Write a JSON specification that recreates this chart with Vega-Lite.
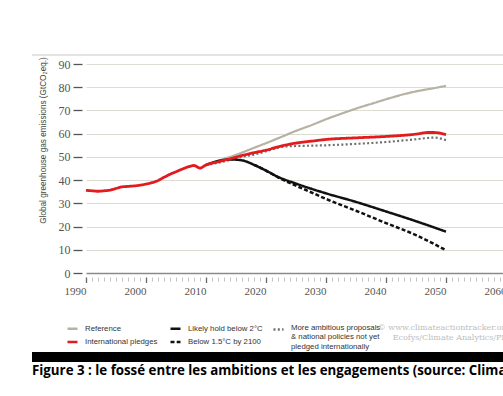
{
  "$schema": "https://vega.github.io/schema/vega-lite/v6.json",
  "width": 420,
  "height": 209,
  "autosize": "none",
  "padding": {"left": 86, "top": 64, "right": 0, "bottom": 123},
  "background": "#ffffff",
  "config": {"view": {"stroke": null}},
  "title": {
    "text": "Figure 3 : le fossé entre les ambitions et les engagements (source: Climate Action Tracker)",
    "orient": "bottom",
    "anchor": "start",
    "frame": "group",
    "dx": -54,
    "offset": 3,
    "font": "Open Sans",
    "fontWeight": "bold",
    "fontSize": 13.3,
    "color": "#000000"
  },
  "data": {
    "values": [
      {"year": 1990, "value": 35.6, "series": "International pledges"},
      {"year": 1991, "value": 35.4, "series": "International pledges"},
      {"year": 1992, "value": 35.2, "series": "International pledges"},
      {"year": 1993, "value": 35.4, "series": "International pledges"},
      {"year": 1994, "value": 35.7, "series": "International pledges"},
      {"year": 1995, "value": 36.4, "series": "International pledges"},
      {"year": 1996, "value": 37.1, "series": "International pledges"},
      {"year": 1997, "value": 37.3, "series": "International pledges"},
      {"year": 1998, "value": 37.5, "series": "International pledges"},
      {"year": 1999, "value": 37.8, "series": "International pledges"},
      {"year": 2000, "value": 38.3, "series": "International pledges"},
      {"year": 2001, "value": 38.9, "series": "International pledges"},
      {"year": 2002, "value": 39.8, "series": "International pledges"},
      {"year": 2003, "value": 41.2, "series": "International pledges"},
      {"year": 2004, "value": 42.5, "series": "International pledges"},
      {"year": 2005, "value": 43.6, "series": "International pledges"},
      {"year": 2006, "value": 44.7, "series": "International pledges"},
      {"year": 2007, "value": 45.7, "series": "International pledges"},
      {"year": 2008, "value": 46.3, "series": "International pledges"},
      {"year": 2009, "value": 45.2, "series": "International pledges"},
      {"year": 2010, "value": 46.5, "series": "International pledges"},
      {"year": 2012, "value": 47.9, "series": "International pledges"},
      {"year": 2014, "value": 49.2, "series": "International pledges"},
      {"year": 2016, "value": 50.6, "series": "International pledges"},
      {"year": 2018, "value": 51.8, "series": "International pledges"},
      {"year": 2020, "value": 52.9, "series": "International pledges"},
      {"year": 2022, "value": 54.3, "series": "International pledges"},
      {"year": 2024, "value": 55.5, "series": "International pledges"},
      {"year": 2026, "value": 56.3, "series": "International pledges"},
      {"year": 2028, "value": 56.9, "series": "International pledges"},
      {"year": 2030, "value": 57.5, "series": "International pledges"},
      {"year": 2035, "value": 58.2, "series": "International pledges"},
      {"year": 2040, "value": 58.8, "series": "International pledges"},
      {"year": 2045, "value": 59.8, "series": "International pledges"},
      {"year": 2047, "value": 60.5, "series": "International pledges"},
      {"year": 2048, "value": 60.5, "series": "International pledges"},
      {"year": 2050, "value": 59.6, "series": "International pledges"},
      {"year": 2010, "value": 46.5, "series": "Reference"},
      {"year": 2012, "value": 48.3, "series": "Reference"},
      {"year": 2015, "value": 50.9, "series": "Reference"},
      {"year": 2018, "value": 53.9, "series": "Reference"},
      {"year": 2020, "value": 55.9, "series": "Reference"},
      {"year": 2022, "value": 58.0, "series": "Reference"},
      {"year": 2025, "value": 61.2, "series": "Reference"},
      {"year": 2028, "value": 64.1, "series": "Reference"},
      {"year": 2030, "value": 66.2, "series": "Reference"},
      {"year": 2033, "value": 69.0, "series": "Reference"},
      {"year": 2035, "value": 70.8, "series": "Reference"},
      {"year": 2038, "value": 73.2, "series": "Reference"},
      {"year": 2040, "value": 74.8, "series": "Reference"},
      {"year": 2043, "value": 77.0, "series": "Reference"},
      {"year": 2045, "value": 78.2, "series": "Reference"},
      {"year": 2048, "value": 79.6, "series": "Reference"},
      {"year": 2050, "value": 80.6, "series": "Reference"},
      {"year": 2010, "value": 46.5, "series": "Likely hold below 2°C"},
      {"year": 2012, "value": 48.2, "series": "Likely hold below 2°C"},
      {"year": 2014, "value": 48.9, "series": "Likely hold below 2°C"},
      {"year": 2016, "value": 48.5, "series": "Likely hold below 2°C"},
      {"year": 2018, "value": 46.6, "series": "Likely hold below 2°C"},
      {"year": 2020, "value": 44.1, "series": "Likely hold below 2°C"},
      {"year": 2022, "value": 41.4, "series": "Likely hold below 2°C"},
      {"year": 2025, "value": 38.5, "series": "Likely hold below 2°C"},
      {"year": 2028, "value": 35.9, "series": "Likely hold below 2°C"},
      {"year": 2030, "value": 34.3, "series": "Likely hold below 2°C"},
      {"year": 2035, "value": 30.6, "series": "Likely hold below 2°C"},
      {"year": 2040, "value": 26.5, "series": "Likely hold below 2°C"},
      {"year": 2045, "value": 22.3, "series": "Likely hold below 2°C"},
      {"year": 2050, "value": 17.8, "series": "Likely hold below 2°C"},
      {"year": 2018, "value": 46.6, "series": "Below 1.5°C by 2100"},
      {"year": 2020, "value": 44.1, "series": "Below 1.5°C by 2100"},
      {"year": 2022, "value": 41.2, "series": "Below 1.5°C by 2100"},
      {"year": 2025, "value": 37.6, "series": "Below 1.5°C by 2100"},
      {"year": 2028, "value": 34.2, "series": "Below 1.5°C by 2100"},
      {"year": 2030, "value": 31.9, "series": "Below 1.5°C by 2100"},
      {"year": 2035, "value": 26.8, "series": "Below 1.5°C by 2100"},
      {"year": 2040, "value": 21.5, "series": "Below 1.5°C by 2100"},
      {"year": 2045, "value": 16.3, "series": "Below 1.5°C by 2100"},
      {"year": 2050, "value": 9.8, "series": "Below 1.5°C by 2100"},
      {"year": 2010, "value": 46.5, "series": "More ambitious proposals & national policies not yet pledged internationally"},
      {"year": 2013, "value": 48.0, "series": "More ambitious proposals & national policies not yet pledged internationally"},
      {"year": 2016, "value": 50.0, "series": "More ambitious proposals & national policies not yet pledged internationally"},
      {"year": 2018, "value": 51.0, "series": "More ambitious proposals & national policies not yet pledged internationally"},
      {"year": 2020, "value": 52.4, "series": "More ambitious proposals & national policies not yet pledged internationally"},
      {"year": 2022, "value": 54.0, "series": "More ambitious proposals & national policies not yet pledged internationally"},
      {"year": 2024, "value": 54.6, "series": "More ambitious proposals & national policies not yet pledged internationally"},
      {"year": 2027, "value": 54.8, "series": "More ambitious proposals & national policies not yet pledged internationally"},
      {"year": 2030, "value": 55.0, "series": "More ambitious proposals & national policies not yet pledged internationally"},
      {"year": 2035, "value": 55.6, "series": "More ambitious proposals & national policies not yet pledged internationally"},
      {"year": 2040, "value": 56.4, "series": "More ambitious proposals & national policies not yet pledged internationally"},
      {"year": 2045, "value": 57.6, "series": "More ambitious proposals & national policies not yet pledged internationally"},
      {"year": 2048, "value": 58.3, "series": "More ambitious proposals & national policies not yet pledged internationally"},
      {"year": 2050, "value": 57.2, "series": "More ambitious proposals & national policies not yet pledged internationally"}
    ]
  },
  "encoding": {
    "x": {
      "field": "year",
      "type": "quantitative",
      "scale": {"domain": [1990, 2060], "nice": false, "zero": false},
      "axis": {
        "values": [1990,1991,1992,1993,1994,1995,1996,1997,1998,1999,2000,2001,2002,2003,2004,2005,2006,2007,2008,2009,2010,2011,2012,2013,2014,2015,2016,2017,2018,2019,2020,2021,2022,2023,2024,2025,2026,2027,2028,2029,2030,2031,2032,2033,2034,2035,2036,2037,2038,2039,2040,2041,2042,2043,2044,2045,2046,2047,2048,2049,2050,2051,2052,2053,2054,2055,2056,2057,2058,2059,2060],
        "format": "d",
        "labelExpr": "datum.value % 10 === 0 ? datum.label : ''",
        "labelOverlap": false,
        "labelFlush": false,
        "labelBound": false,
        "labelAlign": "right",
        "labelFont": "Liberation Serif",
        "labelFontSize": 11,
        "labelColor": "#555555",
        "labelPadding": 3,
        "domain": false,
        "grid": false,
        "offset": 4,
        "tickSize": {"condition": {"test": "datum.value % 10 === 0", "value": 5.5}, "value": 4},
        "tickColor": {"condition": {"test": "datum.value % 10 === 0", "value": "#666666"}, "value": "#b5b5b5"},
        "tickWidth": {"condition": {"test": "datum.value % 10 === 0", "value": 1.3}, "value": 0.8},
        "title": ["© www.climateactiontracker.org", "Ecofys/Climate Analytics/PIK"],
        "titleX": 424,
        "titleY": 46,
        "titleAlign": "right",
        "titleAnchor": null,
        "titleBaseline": "top",
        "titleFont": "DejaVu Serif",
        "titleFontSize": 8,
        "titleFontWeight": "normal",
        "titleColor": "#bdbdbd",
        "titleLineHeight": 10
      }
    },
    "y": {
      "field": "value",
      "type": "quantitative",
      "scale": {"domain": [0, 90], "nice": false},
      "axis": {
        "values": [0, 10, 20, 30, 40, 50, 60, 70, 80, 90],
        "domain": false,
        "offset": 4,
        "tickSize": 9,
        "tickColor": "#555555",
        "tickWidth": 1.3,
        "labelPadding": 3,
        "labelFont": "Liberation Serif",
        "labelFontSize": 12,
        "labelColor": "#555555",
        "grid": true,
        "gridColor": {"condition": {"test": "datum.value === 0", "value": "#8a8a8a"}, "value": "#dcdcd2"},
        "gridWidth": {"condition": {"test": "datum.value === 0", "value": 1.6}, "value": 1},
        "title": "Global greenhouse gas emissions (GtCO₂eq.)",
        "titleFont": "Liberation Sans",
        "titleFontSize": 8.2,
        "titleFontWeight": "normal",
        "titleColor": "#444444",
        "titleX": -39,
        "titleY": 76,
        "titleAnchor": null,
        "titleAlign": "center",
        "titleBaseline": "middle",
        "titleAngle": -90
      }
    },
    "color": {
      "field": "series",
      "type": "nominal",
      "scale": {
        "domain": ["Reference", "International pledges", "Likely hold below 2°C", "Below 1.5°C by 2100"],
        "range": ["#b6b3a4", "#e31b1f", "#111111", "#111111"]
      },
      "legend": {
        "orient": "none",
        "legendX": -20,
        "legendY": 258,
        "columns": 2,
        "title": null,
        "symbolType": "stroke",
        "symbolSize": 100,
        "symbolStrokeWidth": 2.5,
        "labelFont": "Liberation Sans",
        "labelFontSize": 7.8,
        "labelColor": "#333333",
        "labelOffset": 6,
        "labelLimit": 0,
        "columnPadding": 7,
        "rowPadding": 1.5
      }
    },
    "strokeDash": {
      "field": "series",
      "type": "nominal",
      "scale": {
        "domain": ["Reference", "International pledges", "Likely hold below 2°C", "Below 1.5°C by 2100"],
        "range": [[1, 0], [1, 0], [1, 0], [4, 2.2]]
      },
      "legend": {
        "orient": "none",
        "legendX": -20,
        "legendY": 258,
        "columns": 2,
        "title": null,
        "symbolType": "stroke",
        "symbolSize": 100,
        "symbolStrokeWidth": 2.5,
        "labelFont": "Liberation Sans",
        "labelFontSize": 7.8,
        "labelColor": "#333333",
        "labelOffset": 6,
        "labelLimit": 0,
        "columnPadding": 7,
        "rowPadding": 1.5
      }
    }
  },
  "layer": [
    {
      "mark": {"type": "rule", "color": "#e3e3e3", "strokeWidth": 1},
      "encoding": {
        "x": {"datum": 1981},
        "x2": {"datum": 2072},
        "y": {"datum": 93.8},
        "color": null,
        "strokeDash": null
      }
    },
    {
      "mark": {"type": "rect", "color": "#000000"},
      "encoding": {
        "x": {"datum": 1981},
        "x2": {"datum": 2072},
        "y": {"datum": -34.0},
        "y2": {"datum": -38.1},
        "color": null,
        "strokeDash": null
      }
    },
    {
      "transform": [{"filter": "datum.series === 'Reference'"}],
      "mark": {"type": "line", "strokeWidth": 2.2, "interpolate": "monotone"}
    },
    {
      "transform": [{"filter": "datum.series === 'More ambitious proposals & national policies not yet pledged internationally'"}],
      "mark": {"type": "line", "strokeWidth": 2.2, "interpolate": "monotone", "color": "#707072", "strokeDash": [2, 2.3]},
      "encoding": {
        "color": null,
        "strokeDash": null,
        "opacity": {
          "field": "series",
          "type": "ordinal",
          "scale": {"range": [1, 1]},
          "legend": {
            "orient": "none",
            "legendX": 186,
            "legendY": 259,
            "title": null,
            "symbolType": "stroke",
            "symbolSize": 100,
            "symbolStrokeWidth": 2.5,
            "symbolStrokeColor": "#707072",
            "symbolDash": [2, 2.3],
            "symbolOpacity": 1,
            "labelFont": "Liberation Sans",
            "labelFontSize": 7.8,
            "labelColor": "#333333",
            "labelOffset": 6,
            "labelLimit": 0,
            "labelBaseline": "alphabetic",
            "labelExpr": "['More ambitious proposals', '& national policies not yet', 'pledged internationally']",
            "encode": {
              "labels": {
                "lineHeight": {"value": 9.7}
              }
            }
          }
        }
      }
    },
    {
      "transform": [{"filter": "datum.series === 'Below 1.5°C by 2100'"}],
      "mark": {"type": "line", "strokeWidth": 2.5, "interpolate": "monotone"}
    },
    {
      "transform": [{"filter": "datum.series === 'Likely hold below 2°C'"}],
      "mark": {"type": "line", "strokeWidth": 2.5, "interpolate": "monotone"}
    },
    {
      "transform": [{"filter": "datum.series === 'International pledges'"}],
      "mark": {"type": "line", "strokeWidth": 2.8, "interpolate": "monotone"}
    }
  ]
}
